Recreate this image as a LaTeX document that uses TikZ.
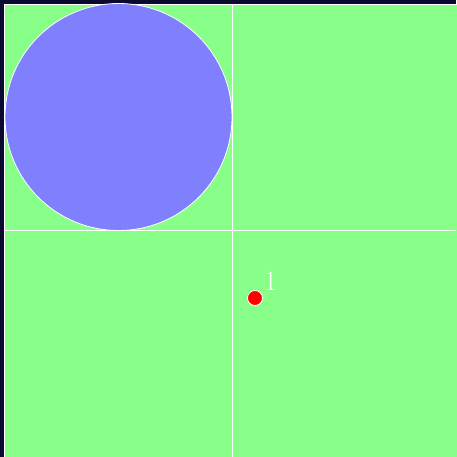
\documentclass[tikz,border=0pt]{standalone}
\usepackage{fontspec}
\definecolor{bgdark}{HTML}{0A0A2E}
\definecolor{fieldgreen}{HTML}{88FF88}
\definecolor{discblue}{HTML}{8080FF}
\tikzset{
  gridline/.style={draw=white, line width=0.8pt},
  disc/.style={circle, fill=discblue, draw=white, line width=0.8pt, inner sep=0pt, minimum size=227pt},
  dot/.style={circle, fill=red, draw=white, line width=0.8pt, inner sep=0pt, minimum size=15pt},
  lbl/.style={text=white, font=\fontsize{28}{28}\selectfont, inner sep=0pt}
}
\begin{document}
\begin{tikzpicture}[x=1pt,y=-1pt]
\useasboundingbox (0,0) rectangle (456,457);
\fill[bgdark] (0,0) rectangle (456,457);
\draw[fill=fieldgreen, draw=white, line width=0.8pt] (4.5,4) rectangle (470,470);
\draw[gridline] (232,4) -- (232,457);
\draw[gridline] (4.5,230) -- (456,230);
\node[disc] (c) at (118.5,117) {};
\node[dot] (p) at (255,298) {};
\node[lbl, anchor=base west] (l) at (264,290) {1};
\end{tikzpicture}
\end{document}
